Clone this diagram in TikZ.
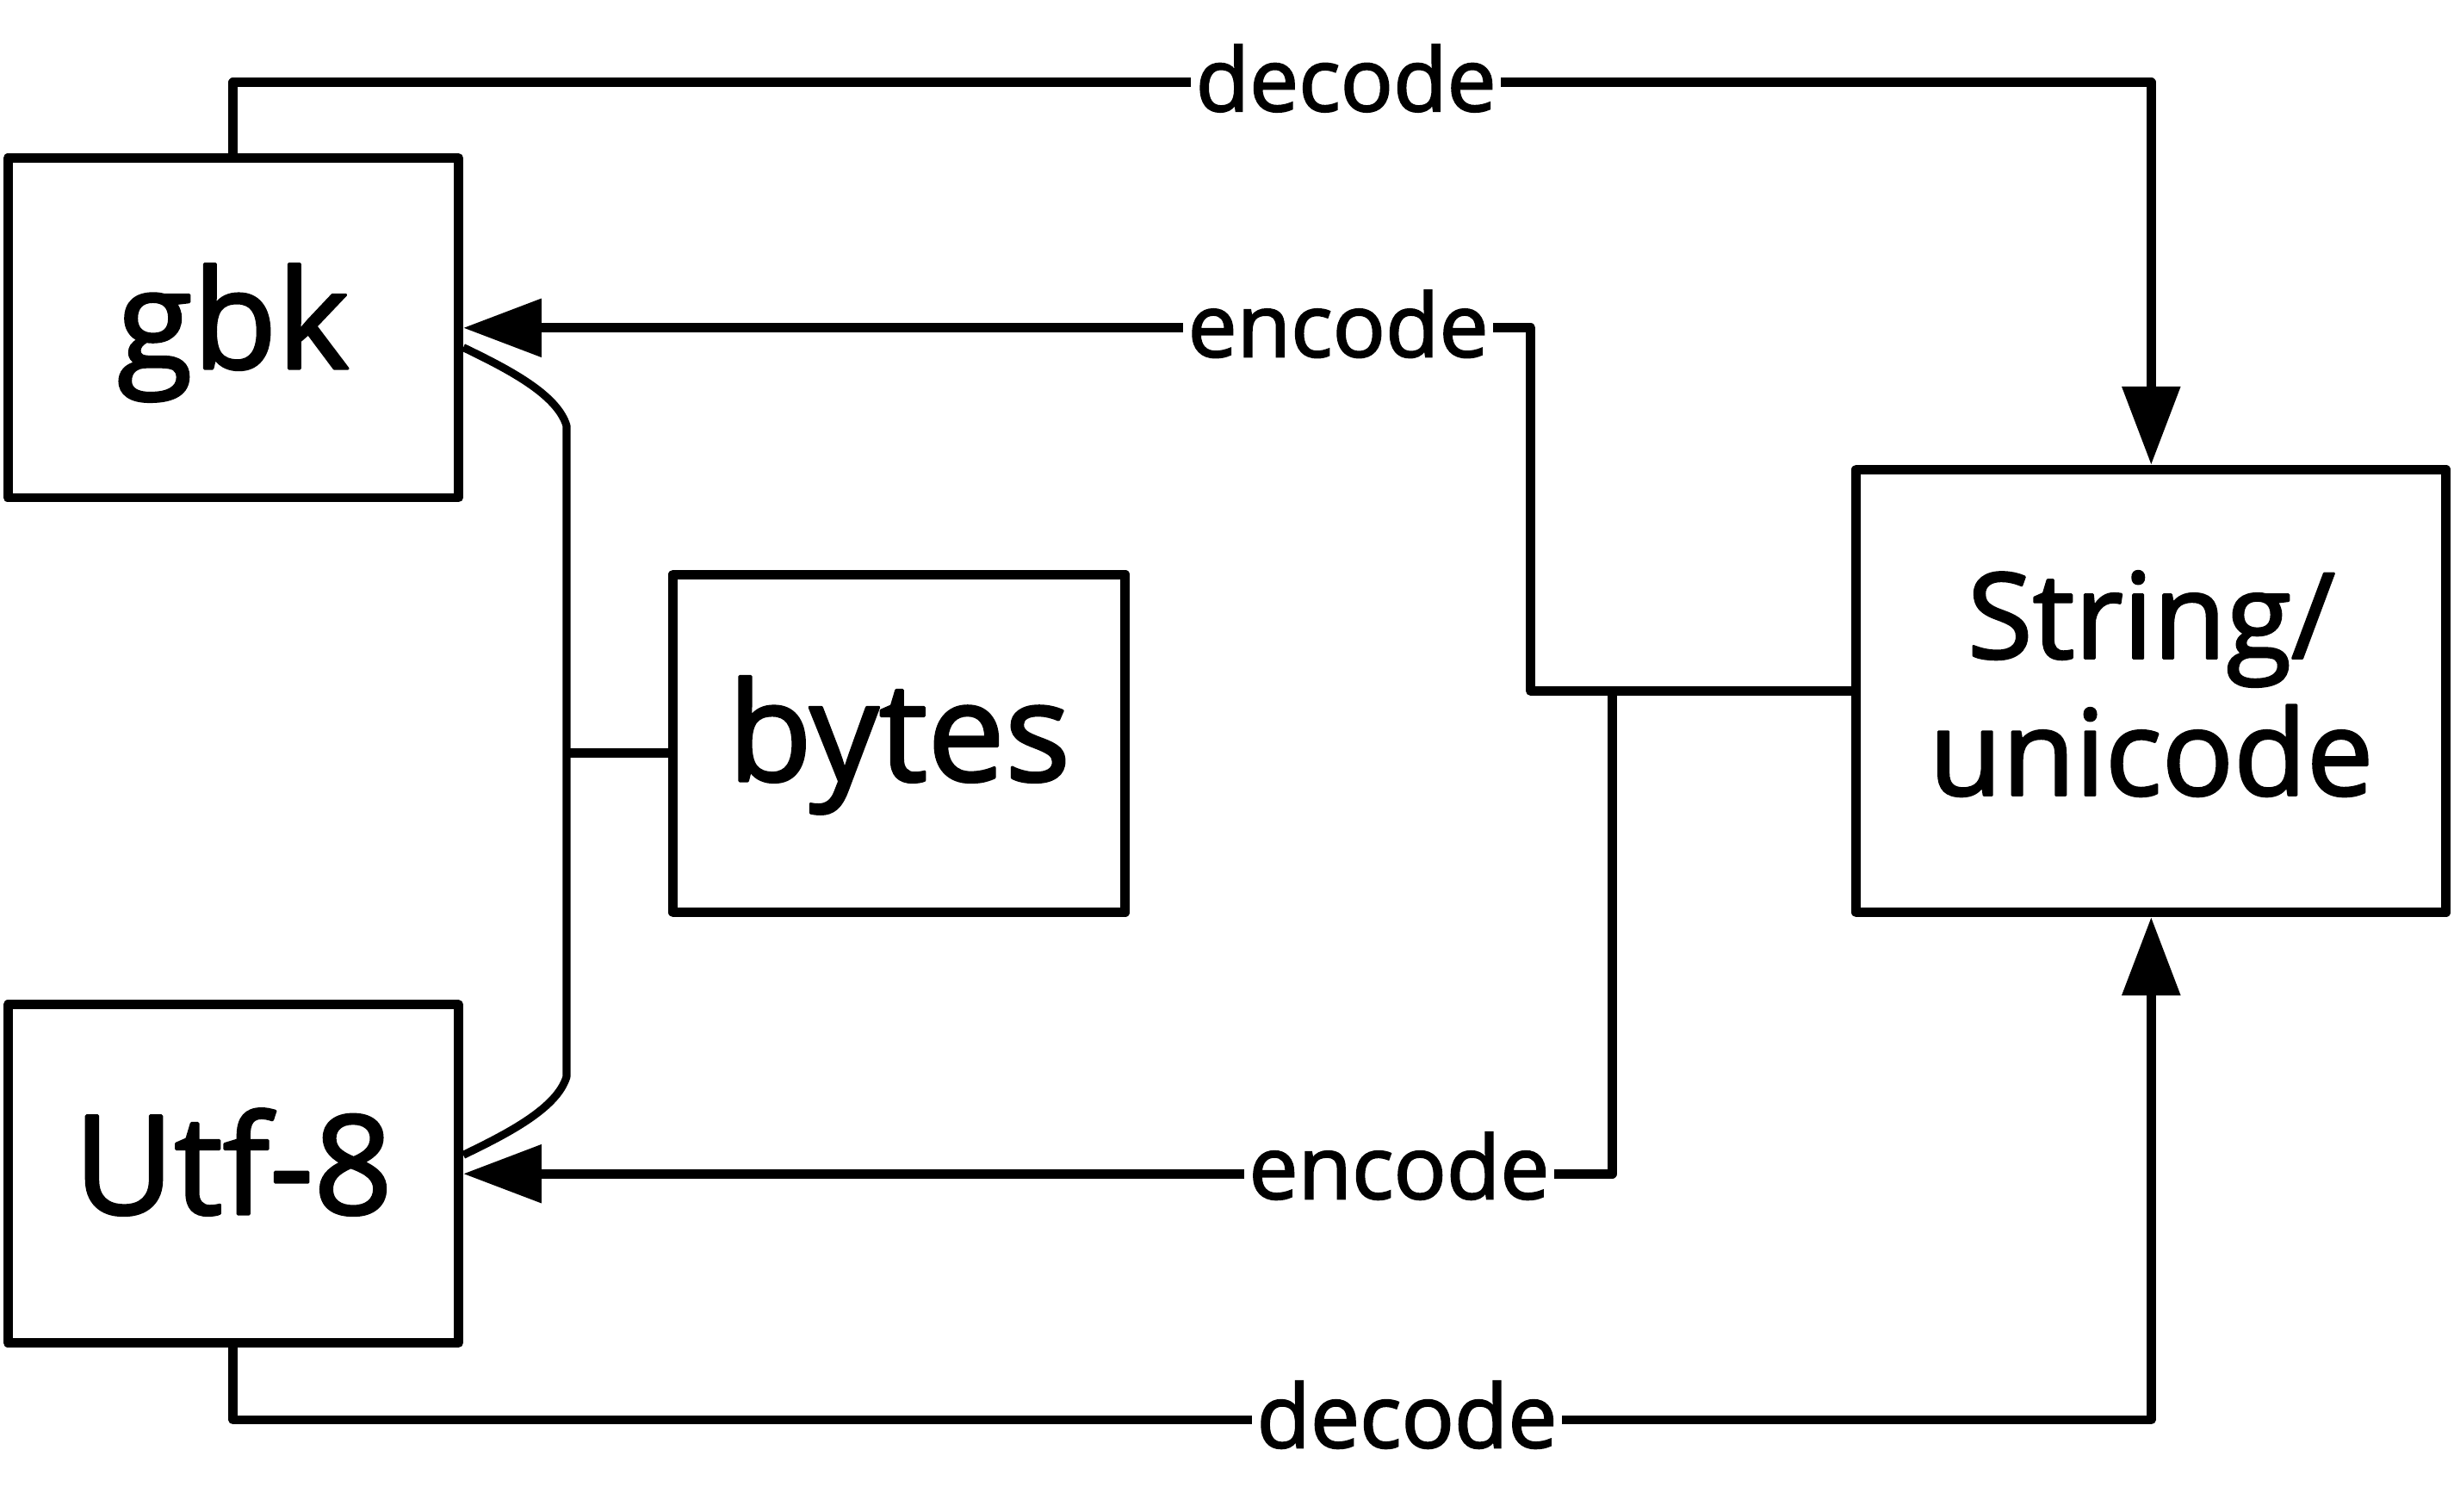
\documentclass[tikz,border=0pt]{standalone}
\usepackage{fontspec}
\setmainfont{Open Sans}[FakeBold=2]
\usetikzlibrary{arrows.meta,calc}
\begin{document}
\begin{tikzpicture}[x=1pt,y=-1pt,
  box/.style={draw,line width=6pt,line join=round,minimum width=288pt,minimum height=217pt,inner sep=0pt,font=\fontsize{88}{100}\selectfont},
  conn/.style={line width=6pt,line join=round},
  arr/.style={conn,-{Triangle[length=50pt,width=36pt]}},
  lab/.style={fill=white,inner sep=3pt,font=\fontsize{56}{60}\selectfont},
  bracepath/.style={line width=5pt,line join=round}]
\fill[white] (0,0) rectangle (1568,966);
\useasboundingbox (0,0) rectangle (1568,966);
\node[box,text height=52pt,text depth=0pt] (gbk) at (149,209.5) {gbk};
\node[box,minimum height=216pt,text height=51.5pt,text depth=0pt] (utf) at (149,750) {Utf-8};
\node[box,minimum width=289pt,minimum height=216pt,text height=48pt,text depth=0pt] (bytes) at (574.5,475) {bytes};
\node[box,minimum width=377pt,minimum height=283pt,align=center,font=\fontsize{76}{87.5}\selectfont] (str) at (1374.5,441.5) {String/\\unicode\rule[-10pt]{0pt}{10pt}};
\coordinate (j) at (1030,441.5);
\coordinate (bj) at (362,481);
\draw[arr] (gbk.north) -- ++(0,-45.25) -| (str.north);
\draw[arr] (str.west) -- ++(-205,0) |- (gbk.east);
\draw[arr] (j) |- (utf.east);
\draw[arr] (utf.south) -- ++(0,46.25) -| (str.south);
\draw[bracepath] ($(gbk.east)+(0,12.5)$) .. controls (325,236) and (356,252) .. (362,272) -- (362,688) .. controls (356,708) and (325,724) .. ($(utf.east)+(0,-12)$);
\draw[conn] ($(bytes.west)+(0,6)$) -- (bj);
\node[lab,yshift=3pt] (l1) at (860,53) {decode};
\node[lab,yshift=3pt] (l2) at (855,210) {encode};
\node[lab,yshift=3pt] (l3) at (894,748) {encode};
\node[lab,yshift=3pt] (l4) at (899,907) {decode};
\end{tikzpicture}
\end{document}
